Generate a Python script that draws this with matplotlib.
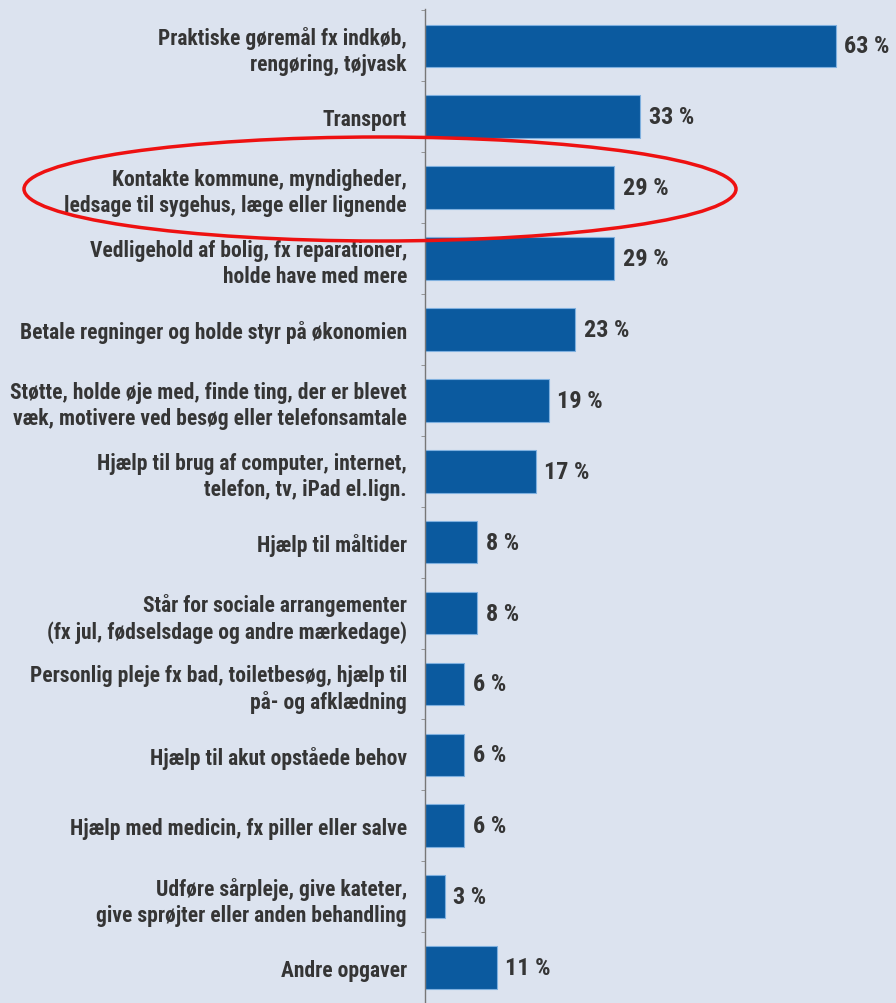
import matplotlib.pyplot as plt
from matplotlib.patches import Ellipse
import numpy as np

# Data
categories = [
    "Praktiske gøremål fx indkøb,\nrengøring, tøjvask",
    "Transport",
    "Kontakte kommune, myndigheder,\nledsage til sygehus, læge eller lignende",
    "Vedligehold af bolig, fx reparationer,\nholde have med mere",
    "Betale regninger og holde styr på økonomien",
    "Støtte, holde øje med, finde ting, der er blevet\nvæk, motivere ved besøg eller telefonsamtale",
    "Hjælp til brug af computer, internet,\ntelefon, tv, iPad el.lign.",
    "Hjælp til måltider",
    "Står for sociale arrangementer\n(fx jul, fødselsdage og andre mærkedage)",
    "Personlig pleje fx bad, toiletbesøg, hjælp til\npå- og afklædning",
    "Hjælp til akut opståede behov",
    "Hjælp med medicin, fx piller eller salve",
    "Udføre sårpleje, give kateter,\ngive sprøjter eller anden behandling",
    "Andre opgaver",
]
values = [63, 33, 29, 29, 23, 19, 17, 8, 8, 6, 6, 6, 3, 11]

bg = "#dce3ef"
bar_color = "#0b5a9f"
text_color = "#353535"
font = ["Roboto Condensed", "DejaVu Sans"]

fig = plt.figure(figsize=(8.96, 10.04), dpi=100, facecolor=bg)
ax = fig.add_axes([425 / 896, 0, 1 - 425 / 896, 1 - 10 / 1004])
ax.set_facecolor(bg)

y = np.arange(len(values))
ax.barh(y, values, height=0.6, color=bar_color, edgecolor="#7fb0df", linewidth=0.8)

for yi, v in zip(y, values):
    ax.text(v + 1.3, yi, f"{v} %", va="center", ha="left", fontsize=17.5,
            fontweight="bold", color=text_color, family=font)

ax.set_xlim(0, 72.2)
ax.set_ylim(13.46, -0.52)

ax.set_yticks(y)
ax.set_yticklabels(categories, fontsize=15.5, fontweight="bold", color=text_color,
                   family=font, linespacing=1.25)
ax.tick_params(axis="y", which="major", length=0, pad=13)
ax.set_yticks(np.arange(-0.5, len(values), 1.0), minor=True)
ax.tick_params(axis="y", which="minor", length=3, color="#888888")
ax.set_xticks([])

for s in ["top", "right", "bottom"]:
    ax.spines[s].set_visible(False)
ax.spines["left"].set_color("#777777")
ax.spines["left"].set_linewidth(1.0)

# red highlight around the third row
ell = Ellipse((380 / 896, 1 - 190 / 1004), 712 / 896, 104 / 1004,
              transform=fig.transFigure, fill=False, edgecolor="#ee1111", linewidth=2.5)
fig.add_artist(ell)

fig.savefig("out.png", dpi=100, facecolor=bg)
